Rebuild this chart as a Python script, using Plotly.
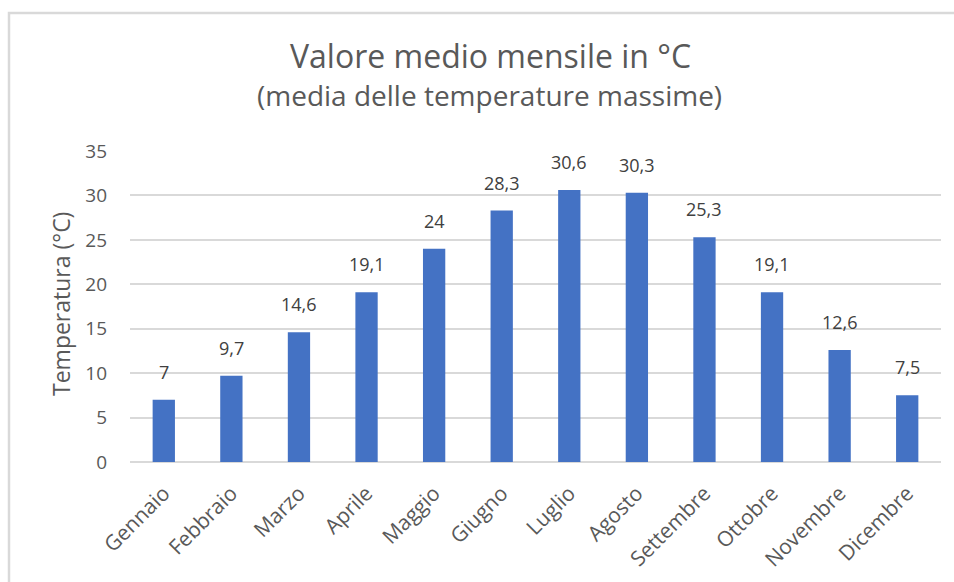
import plotly.graph_objects as go

# Monthly mean of daily maximum temperatures (°C)
mesi = ["Gennaio", "Febbraio", "Marzo", "Aprile", "Maggio", "Giugno",
        "Luglio", "Agosto", "Settembre", "Ottobre", "Novembre", "Dicembre"]
temperature = [7, 9.7, 14.6, 19.1, 24, 28.3, 30.6, 30.3, 25.3, 19.1, 12.6, 7.5]
y_ticks = [0, 5, 10, 15, 20, 25, 30, 35]

titolo = "Valore medio mensile in °C"
sottotitolo = "(media delle temperature massime)"
titolo_y = "Temperatura (°C)"

W, H = 954, 582
M_L, M_R, M_T, M_B = 130, 13, 151, 120
PW = W - M_L - M_R
PH = H - M_T - M_B
FONT = "Open Sans"
GREY = "#595959"


def px_x(x):
    """Pixel column -> paper x."""
    return (x - M_L) / PW


def px_y(y):
    """Pixel row (from top) -> paper y."""
    return 1 - (y - M_T) / PH


def etichetta(v):
    # Italian decimal comma, integers without decimals
    return f"{v:g}".replace(".", ",")


fig = go.Figure(
    go.Bar(
        x=mesi,
        y=temperature,
        marker=dict(color="#4472C4", line=dict(width=0)),
        width=0.33,
        hoverinfo="x+y",
    )
)

# Value labels above each bar
for m, v in zip(mesi, temperature):
    fig.add_annotation(
        x=m, y=v, text=etichetta(v), showarrow=False,
        yanchor="bottom", yshift=14,
        font=dict(family=FONT, size=18, color="#404040"),
    )

# Title and subtitle
fig.add_annotation(
    xref="paper", yref="paper", x=px_x(490), y=px_y(56),
    xanchor="center", yanchor="middle", showarrow=False,
    text=titolo, font=dict(family=FONT, size=32, color=GREY),
)
fig.add_annotation(
    xref="paper", yref="paper", x=px_x(489), y=px_y(95),
    xanchor="center", yanchor="middle", showarrow=False,
    text=sottotitolo, font=dict(family=FONT, size=28, color=GREY),
)

# Y axis title
fig.add_annotation(
    xref="paper", yref="paper", x=px_x(61), y=px_y(304),
    xanchor="center", yanchor="middle", showarrow=False, textangle=-90,
    text=titolo_y, font=dict(family=FONT, size=23, color=GREY),
)

# Outer chart frame
fig.add_shape(
    type="rect", xref="paper", yref="paper",
    x0=px_x(9), x1=px_x(W + 20),
    y0=px_y(H + 20), y1=px_y(13),
    line=dict(color="#d9d9d9", width=2.5), layer="below",
)

fig.update_layout(
    width=W, height=H,
    margin=dict(l=M_L, r=M_R, t=M_T, b=M_B, autoexpand=False),
    paper_bgcolor="white", plot_bgcolor="white",
    showlegend=False,
    font=dict(family=FONT, color=GREY),
    xaxis=dict(
        tickangle=-45, automargin=False,
        tickfont=dict(family=FONT, size=21, color=GREY),
        showgrid=False, showline=False, ticks="",
        zeroline=False, ticklabelstandoff=14,
    ),
    yaxis=dict(
        range=[0, 35], automargin=False,
        tickvals=y_ticks,
        tickfont=dict(family=FONT, size=19, color=GREY),
        showgrid=True, gridcolor="#d9d9d9", gridwidth=1.5,
        zeroline=True, zerolinecolor="#d9d9d9", zerolinewidth=2,
        showline=False, ticks="", ticklabelstandoff=22,
    ),
)

fig.write_html("out.html")
